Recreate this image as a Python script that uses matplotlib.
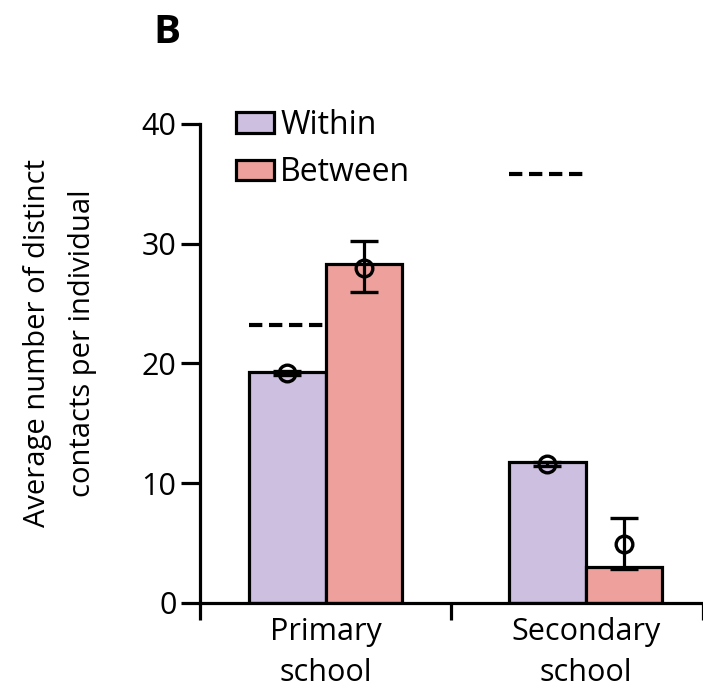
import matplotlib
matplotlib.use('Agg')
import matplotlib.pyplot as plt
from matplotlib.patches import Patch

plt.rcParams['font.family'] = ['Open Sans', 'DejaVu Sans']

# group centres on the x axis, separators at 0, 1, 2
groups = ['Primary\nschool', 'Secondary\nschool']
group_pos = [0.5, 1.535]

# observed averages (bars)
within_bar = [19.3, 11.8]
between_bar = [28.3, 3.0]

# estimates with intervals (circles + error bars)
within_est = [19.2, 11.6]
within_lo = [19.0, 11.4]
within_hi = [19.4, 11.8]
between_est = [28.0, 4.9]
between_lo = [26.0, 2.8]
between_hi = [30.2, 7.1]

# reference level over the within bars (dashed)
reference = [23.2, 35.8]

within_col = '#cdbfdf'
between_col = '#eea19c'
bw = 0.305
lw = 2.3

fig = plt.figure(figsize=(7.03, 6.95), dpi=100)
ax = fig.add_axes([0.2845, 0.1324, 0.715, 0.6892])

xw = [p - bw / 2 for p in group_pos]
xb = [p + bw / 2 for p in group_pos]

ax.bar(xw, within_bar, width=bw, color=within_col, edgecolor='black', linewidth=lw, zorder=2)
ax.bar(xb, between_bar, width=bw, color=between_col, edgecolor='black', linewidth=lw, zorder=2)

for x, e, lo, hi in zip(xw + xb, within_est + between_est, within_lo + between_lo, within_hi + between_hi):
    ax.errorbar(x, e, yerr=[[e - lo], [hi - e]], fmt='o', ms=12, mfc='none', mec='black',
                mew=2.4, ecolor='black', elinewidth=2.3, capsize=10, capthick=2.3, color='black', zorder=4)

for x, r in zip(xw, reference):
    ax.plot([x - bw / 2, x + bw / 2], [r, r], color='black', lw=3, ls=(0, (3.2, 1.6)), zorder=3)

ax.set_xlim(0, 2)
ax.set_ylim(0, 40)
ax.set_yticks([0, 10, 20, 30, 40])
ax.set_xticks(group_pos)
ax.set_xticklabels(groups, fontsize=22, linespacing=1.5)
ax.set_xticks([0, 1, 2], minor=True)
ax.tick_params(axis='x', which='major', length=0, pad=10)
ax.tick_params(axis='x', which='minor', length=12, width=lw, direction='out')
ax.tick_params(axis='y', length=14, width=lw, labelsize=22, pad=3)

for s in ['top', 'right']:
    ax.spines[s].set_visible(False)
for s in ['left', 'bottom']:
    ax.spines[s].set_linewidth(lw)

handles = [Patch(facecolor=within_col, edgecolor='black', linewidth=lw, label='Within'),
           Patch(facecolor=between_col, edgecolor='black', linewidth=lw, label='Between')]
ax.legend(handles=handles, loc='upper left', bbox_to_anchor=(0.02, 1.085), frameon=False,
          fontsize=23, handlelength=1.2, handleheight=0.62, handletextpad=0.2,
          labelspacing=0.45, borderpad=0.3)

fig.text(0.085, 0.506, 'Average number of distinct\ncontacts per individual', rotation=90,
         ha='center', va='center', fontsize=21, linespacing=1.75)
fig.text(0.218, 0.953, 'B', fontsize=29, fontweight='bold', ha='left', va='center')

fig.savefig('out.png', dpi=100)
